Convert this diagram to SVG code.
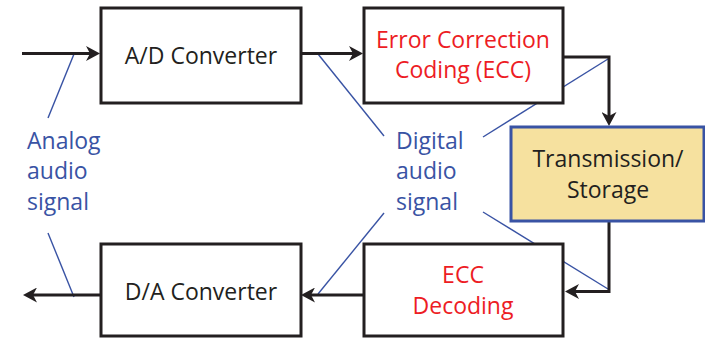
<svg xmlns="http://www.w3.org/2000/svg" width="705" height="339" viewBox="0 0 705 339">
  <style>
    text { font-family: "Open Sans", "Noto Sans", "Liberation Sans", sans-serif; font-size: 23px; text-anchor: middle; }
    .box { fill: #ffffff; stroke: #231f20; stroke-width: 3; }
    .store { fill: #f6e19f; stroke: #3953a4; stroke-width: 3; }
    .flow { fill: none; stroke: #231f20; stroke-width: 3; marker-end: url(#head); }
    .lead { fill: none; stroke: #3953a4; stroke-width: 1.4; }
    .dark { fill: #231f20; }
    .red { fill: #ed1c24; }
    .blue { fill: #3953a4; text-anchor: start; }
  </style>
  <defs>
    <marker id="head" viewBox="0 0 14 15" refX="10" refY="7.5" markerWidth="14" markerHeight="15" markerUnits="userSpaceOnUse" orient="auto">
      <path d="M14,7.5 L0,0 L4,7.5 L0,15 Z" fill="#231f20"/>
    </marker>
  </defs>

  <rect width="705" height="339" fill="#ffffff"/>

  <!-- annotation leaders (behind the boxes) -->
  <g id="labels">
    <g id="analog-label">
      <path class="lead" d="M74,54 L48,118"/>
      <path class="lead" d="M48,233 L74,297"/>
      <text class="blue" x="27" y="149">Analog</text>
      <text class="blue" x="27" y="179">audio</text>
      <text class="blue" x="27" y="210">signal</text>
    </g>
    <g id="digital-label">
      <path class="lead" d="M318,54 L384,136"/>
      <path class="lead" d="M483,137 L608,59"/>
      <path class="lead" d="M384,213 L318,294"/>
      <path class="lead" d="M483,212 L608,289"/>
      <text class="blue" x="396" y="149">Digital</text>
      <text class="blue" x="396" y="179">audio</text>
      <text class="blue" x="396" y="210">signal</text>
    </g>
  </g>

  <g id="connectors">
    <path class="flow" d="M22,53.5 L96,53.5"/>
    <path class="flow" d="M301,53.5 L359,53.5"/>
    <path class="flow" d="M563,57 L609,57 L609,122"/>
    <path class="flow" d="M609,221 L609,291.5 L569,291.5"/>
    <path class="flow" d="M364,295 L305,295"/>
    <path class="flow" d="M100,295 L27,295"/>
  </g>

  <g id="ad-converter">
    <rect class="box" x="101" y="8" width="200" height="95"/>
    <text class="dark" x="201" y="64">A/D Converter</text>
  </g>
  <g id="ecc">
    <rect class="box" x="364" y="8" width="199" height="95"/>
    <text class="red" x="463" y="48">Error Correction</text>
    <text class="red" x="463" y="78">Coding (ECC)</text>
  </g>
  <g id="transmission">
    <rect class="store" x="511" y="127" width="193" height="94"/>
    <text class="dark" x="608" y="167">Transmission/</text>
    <text class="dark" x="608" y="198">Storage</text>
  </g>
  <g id="ecc-decoding">
    <rect class="box" x="364" y="244" width="199" height="92"/>
    <text class="red" x="463" y="283">ECC</text>
    <text class="red" x="463" y="314">Decoding</text>
  </g>
  <g id="da-converter">
    <rect class="box" x="101" y="244" width="200" height="92"/>
    <text class="dark" x="201" y="300">D/A Converter</text>
  </g>
</svg>
